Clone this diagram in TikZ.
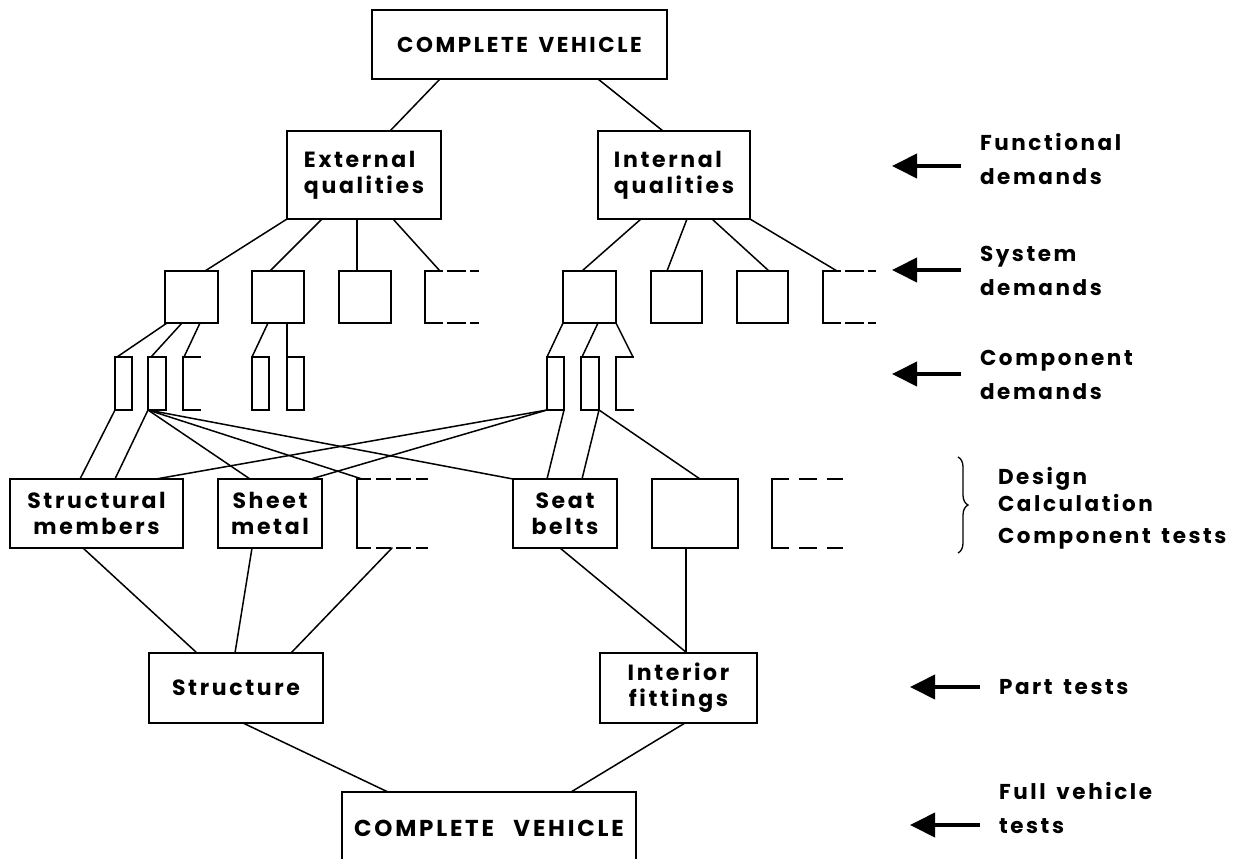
\documentclass[tikz,border=0pt]{standalone}
\usepackage{fontspec}
\setmainfont{Poppins}
\newfontfamily\diagfont{Poppins}[LetterSpace=12, WordSpace=1.5]
\usetikzlibrary{arrows.meta,decorations.pathreplacing,calc}

\tikzset{
  box/.style={draw=black, line width=1.8pt, inner sep=0pt, outer sep=0pt, align=center},
  ghost/.style={inner sep=0pt, outer sep=0pt},
  conn/.style={line width=1.5pt, line cap=round},
  side/.style={line width=1.8pt, line cap=rect},
  txt/.style={font=\diagfont\bfseries\fontsize{22}{26}\selectfont},
  bigtxt/.style={font=\diagfont\bfseries\fontsize{21.5}{26}\selectfont},
  basetxt/.style={font=\diagfont\bfseries\fontsize{23}{26}\selectfont},
  sidelabel/.style={anchor=west, inner sep=0pt, outer sep=0pt, align=left,
    font=\diagfont\bfseries\fontsize{21.5}{34}\selectfont},
  pointer/.style={line width=4pt, -{Triangle[length=25pt,width=24pt]}},
  bracket/.style={line width=1.3pt, decorate, decoration={brace, amplitude=10pt}},
}

% connector between the bottom edge of one box and the top edge of another,
% each end given as an offset from the box's left edge
\newcommand\joinbox[4]{\draw[conn] ([xshift=#2pt]#1.south west) -- ([xshift=#4pt]#3.north west);}
% box with a solid left side and dashed top and bottom
\newcommand\openbox[2]{%
  \draw[side] (#1.north west) -- (#1.south west);
  \draw[side, dash pattern=#2] (#1.north west) -- (#1.north east);
  \draw[side, dash pattern=#2] (#1.south west) -- (#1.south east);}
% bracket: left side with short top and bottom
\newcommand\bracketbox[1]{%
  \draw[side] (#1.north east) -- (#1.north west) -- (#1.south west) -- (#1.south east);}

\begin{document}
\begin{tikzpicture}[x=1pt,y=-1pt]
\useasboundingbox (0,0) rectangle (1242,859);
\fill[white] (0,0) rectangle (1242,859);
\clip (0,0) rectangle (1242,859);

% level 0: complete vehicle
\node[box, bigtxt, minimum width=295pt, minimum height=69pt] (top) at (519.5,44.5) {COMPLETE VEHICLE};

% level 1: qualities
\node[box, txt, align=left, minimum width=154pt, minimum height=88pt] (ext) at (364,175) {External\\qualities};
\node[box, txt, align=left, minimum width=152pt, minimum height=88pt] (int) at (674,175) {Internal\\qualities};

% level 2: systems
\node[box, minimum width=53pt, minimum height=52pt] (s1) at (191.5,297) {};
\node[box, minimum width=52pt, minimum height=52pt] (s2) at (278,297) {};
\node[box, minimum width=52pt, minimum height=52pt] (s3) at (365,297) {};
\node[ghost, minimum width=53pt, minimum height=52pt] (s4) at (451.5,297) {};
\node[box, minimum width=53pt, minimum height=52pt] (s5) at (589.5,297) {};
\node[box, minimum width=51pt, minimum height=52pt] (s6) at (676.5,297) {};
\node[box, minimum width=51pt, minimum height=52pt] (s7) at (762.5,297) {};
\node[ghost, minimum width=52pt, minimum height=52pt] (s8) at (849,297) {};
\openbox{s4}{on 17pt off 6pt}
\openbox{s8}{on 17pt off 6pt}

% level 3: components
\node[box, minimum width=17pt, minimum height=53pt] (c1) at (123.5,383.5) {};
\node[box, minimum width=18pt, minimum height=53pt] (c2) at (157,383.5) {};
\node[ghost, minimum width=17pt, minimum height=53pt] (c3) at (191.5,383.5) {};
\node[box, minimum width=17pt, minimum height=53pt] (c4) at (260.5,383.5) {};
\node[box, minimum width=17pt, minimum height=53pt] (c5) at (295.5,383.5) {};
\node[box, minimum width=17pt, minimum height=53pt] (c6) at (555.5,383.5) {};
\node[box, minimum width=18pt, minimum height=53pt] (c7) at (590,383.5) {};
\node[ghost, minimum width=17pt, minimum height=53pt] (c8) at (624.5,383.5) {};
\bracketbox{c3}
\bracketbox{c8}

% level 4: design, calculation, component tests
\node[box, txt, minimum width=173pt, minimum height=69pt] (r1) at (96.5,513.5) {Structural\\members};
\node[box, txt, minimum width=104pt, minimum height=69pt] (r2) at (270,513.5) {Sheet\\metal};
\node[ghost, minimum width=70pt, minimum height=69pt] (r3) at (392,513.5) {};
\node[box, txt, minimum width=104pt, minimum height=69pt] (r4) at (565,513.5) {Seat\\belts};
\node[box, minimum width=86pt, minimum height=69pt] (r5) at (695,513.5) {};
\node[ghost, minimum width=70pt, minimum height=69pt] (r6) at (807,513.5) {};
\openbox{r3}{on 13pt off 7pt}
\openbox{r6}{on 16pt off 12pt}

% level 5: parts
\node[box, txt, minimum width=174pt, minimum height=70pt] (p1) at (236,688) {Structure};
\node[box, txt, minimum width=157pt, minimum height=70pt] (p2) at (678.5,688) {Interior\\fittings};

% level 6: complete vehicle
\node[box, basetxt, minimum width=294pt, minimum height=73pt] (bot) at (489,828.5) {COMPLETE\hspace{8pt} VEHICLE};

% connectors
\joinbox{top}{68}{ext}{103}
\joinbox{top}{226}{int}{65}
\joinbox{ext}{0}{s1}{40}
\joinbox{ext}{35}{s2}{18}
\joinbox{ext}{70}{s3}{18}
\joinbox{ext}{106}{s4}{15}
\joinbox{int}{43}{s5}{19}
\joinbox{int}{89}{s6}{16}
\joinbox{int}{114}{s7}{32}
\joinbox{int}{152}{s8}{14}
\joinbox{s1}{2}{c1}{2}
\joinbox{s1}{17}{c2}{3}
\joinbox{s1}{35}{c3}{1}
\joinbox{s2}{16}{c4}{0}
\joinbox{s2}{35}{c5}{0}
\joinbox{s5}{0}{c6}{0}
\joinbox{s5}{35}{c7}{1}
\joinbox{s5}{53}{c8}{17}
\joinbox{c1}{0}{r1}{70}
\joinbox{c2}{0}{r1}{105}
\joinbox{c2}{0}{r2}{32}
\joinbox{c2}{0}{r3}{5}
\joinbox{c2}{0}{r4}{0}
\joinbox{c6}{0}{r1}{146}
\joinbox{c6}{0}{r2}{93}
\joinbox{c6}{17}{r4}{34}
\joinbox{c7}{18}{r4}{69}
\joinbox{c7}{18}{r5}{48}
\joinbox{r1}{73}{p1}{48}
\joinbox{r2}{34}{p1}{86}
\joinbox{r3}{35}{p1}{142}
\joinbox{r4}{47}{p2}{87}
\joinbox{r5}{34}{p2}{86}
\joinbox{p1}{94}{bot}{46}
\joinbox{p2}{85}{bot}{229}

% level labels on the right
\node[sidelabel] (fd) at (980,159) {Functional\\demands};
\node[sidelabel] (sd) at (980,270.5) {System\\demands};
\node[sidelabel] (cd) at (980,375) {Component\\demands};
\node[sidelabel] (dc) at (998,508.5) {Design\\[-7pt]Calculation\\[-2pt]Component tests};
\node[sidelabel] (pt) at (999,687) {Part tests};
\node[sidelabel] (fv) at (999,807.5) {Full vehicle\\tests};

\coordinate (fdT) at (961,166);  \coordinate (fdH) at (892,166);
\coordinate (sdT) at (961,270);  \coordinate (sdH) at (892,270);
\coordinate (cdT) at (961,374);  \coordinate (cdH) at (892,374);
\coordinate (ptT) at (980,687);  \coordinate (ptH) at (910,687);
\coordinate (fvT) at (980,825);  \coordinate (fvH) at (910,825);
\draw[pointer] (fdT) -- (fdH);
\draw[pointer] (sdT) -- (sdH);
\draw[pointer] (cdT) -- (cdH);
\draw[pointer] (ptT) -- (ptH);
\draw[pointer] (fvT) -- (fvH);

\coordinate (brA) at (958,457);
\coordinate (brB) at (958,553);
\draw[bracket] (brA) -- (brB);
\end{tikzpicture}
\end{document}
